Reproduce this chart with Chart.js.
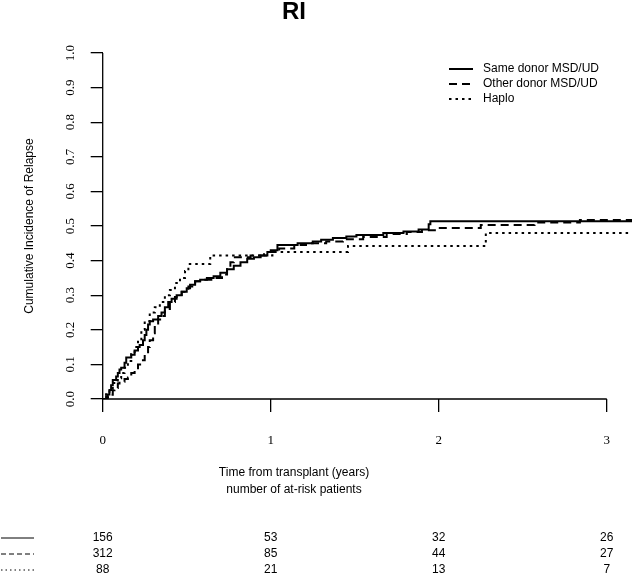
<!DOCTYPE html>
<html>
<head>
<meta charset="utf-8">
<script src="https://cdn.jsdelivr.net/npm/chart.js@4.4.1/dist/chart.umd.min.js"></script>
<style>
  html, body { margin: 0; padding: 0; background: #fff; }
</style>
</head>
<body>
<canvas id="myChart" width="633" height="578"></canvas>
<script>
// Cumulative incidence of relapse (time in years)
var seriesNames = ["Same donor MSD/UD", "Other donor MSD/UD", "Haplo"];

var sameTimes = [0, 0.02, 0.03, 0.04, 0.05, 0.06, 0.08, 0.09, 0.10, 0.11, 0.13, 0.14, 0.17, 0.19, 0.21, 0.22,
  0.24, 0.25, 0.26, 0.27, 0.28, 0.30, 0.33, 0.35, 0.37, 0.39, 0.41, 0.44, 0.47, 0.50, 0.52, 0.55, 0.58,
  0.62, 0.66, 0.70, 0.74, 0.78, 0.82, 0.86, 0.90, 0.94, 0.98, 1.00, 1.04, 1.16, 1.25, 1.30, 1.37, 1.45,
  1.51, 1.67, 1.79, 1.88, 1.94, 1.95, 3.15];
var sameCum = [0, 0.007, 0.013, 0.026, 0.04, 0.055, 0.065, 0.075, 0.085, 0.09, 0.105, 0.12, 0.128, 0.14, 0.15, 0.156,
  0.17, 0.185, 0.2, 0.215, 0.225, 0.23, 0.24, 0.25, 0.265, 0.28, 0.29, 0.30, 0.31, 0.32, 0.33, 0.34, 0.345,
  0.35, 0.355, 0.365, 0.375, 0.385, 0.395, 0.405, 0.41, 0.415, 0.425, 0.43, 0.445, 0.45, 0.455, 0.46, 0.465, 0.47,
  0.474, 0.48, 0.484, 0.49, 0.505, 0.514, 0.514];

var otherTimes = [0, 0.03, 0.04, 0.06, 0.07, 0.09, 0.10, 0.13, 0.15, 0.17, 0.19, 0.21, 0.23, 0.25, 0.27, 0.28,
  0.30, 0.31, 0.33, 0.35, 0.37, 0.40, 0.43, 0.47, 0.51, 0.55, 0.60, 0.66, 0.71, 0.74, 0.76, 0.78, 0.88,
  0.96, 1.05, 1.14, 1.21, 1.33, 1.43, 1.55, 1.69, 1.81, 1.90, 1.99, 2.25, 2.57, 2.84, 3.15];
var otherCum = [0, 0.005, 0.012, 0.025, 0.032, 0.045, 0.05, 0.058, 0.062, 0.075, 0.085, 0.1, 0.112, 0.13, 0.15, 0.17,
  0.19, 0.215, 0.23, 0.24, 0.26, 0.28, 0.295, 0.31, 0.325, 0.34, 0.345, 0.35, 0.36, 0.38, 0.395, 0.41, 0.415,
  0.425, 0.435, 0.445, 0.45, 0.455, 0.462, 0.468, 0.477, 0.483, 0.488, 0.494, 0.503, 0.51, 0.517, 0.517];

var haploTimes = [0, 0.02, 0.04, 0.06, 0.09, 0.11, 0.13, 0.15, 0.17, 0.19, 0.21, 0.23, 0.25, 0.28, 0.31, 0.34,
  0.37, 0.40, 0.43, 0.46, 0.49, 0.51, 0.64, 1.01, 1.46, 2.28, 3.15];
var haploCum = [0, 0.017, 0.03, 0.046, 0.06, 0.075, 0.09, 0.11, 0.13, 0.15, 0.17, 0.2, 0.225, 0.25, 0.265, 0.28,
  0.3, 0.315, 0.335, 0.35, 0.37, 0.39, 0.415, 0.425, 0.442, 0.48, 0.48];

var xTicks = [0, 1, 2, 3];
var yTicks = [0, 0.1, 0.2, 0.3, 0.4, 0.5, 0.6, 0.7, 0.8, 0.9, 1.0];

// number of patients at risk at each x tick
var atRiskSame = [156, 53, 32, 26];
var atRiskOther = [312, 85, 44, 27];
var atRiskHaplo = [88, 21, 13, 7];

function toPoints(times, values) {
  return times.map(function (t, i) {
    return { x: t, y: values[i] };
  });
}

var sansFont = "'Liberation Sans', Arial, sans-serif";
var serifFont = "'Liberation Serif', 'Times New Roman', serif";

// titles, legend and at-risk table
var extras = {
  id: "extras",
  afterDraw: function (chart) {
    var ctx = chart.ctx;
    var xs = chart.scales.x;
    var ys = chart.scales.y;
    ctx.save();
    ctx.strokeStyle = "#000";
    ctx.fillStyle = "#000";

    // axis lines only from first to last tick
    ctx.lineWidth = 1.3;
    ctx.setLineDash([]);
    ctx.beginPath();
    var yBase = ys.getPixelForValue(0);
    ctx.moveTo(xs.getPixelForValue(xTicks[0]), yBase);
    ctx.lineTo(xs.getPixelForValue(xTicks[xTicks.length - 1]), yBase);
    var xBase = xs.getPixelForValue(0);
    ctx.moveTo(xBase, ys.getPixelForValue(yTicks[0]));
    ctx.lineTo(xBase, ys.getPixelForValue(yTicks[yTicks.length - 1]));
    ctx.stroke();

    // main title
    ctx.textAlign = "center";
    ctx.textBaseline = "middle";
    ctx.font = "bold 24px " + sansFont;
    ctx.fillText("RI", 294, 12);

    // y axis title
    ctx.font = "12px " + sansFont;
    ctx.save();
    ctx.translate(30, (ys.top + ys.bottom) / 2);
    ctx.rotate(-Math.PI / 2);
    ctx.fillText("Cumulative Incidence of Relapse", 0, 0);
    ctx.restore();

    // x axis title
    ctx.fillText("Time from transplant (years)", 294, 473);
    ctx.fillText("number of at-risk patients", 294, 490);

    // legend
    var legendY = [69, 84, 99];
    chart.data.datasets.forEach(function (ds, i) {
      ctx.lineWidth = ds.borderWidth;
      ctx.setLineDash(ds.borderDash || []);
      ctx.beginPath();
      ctx.moveTo(449, legendY[i]);
      ctx.lineTo(473, legendY[i]);
      ctx.stroke();
      ctx.setLineDash([]);
      ctx.textAlign = "left";
      ctx.fillText(ds.label, 483, legendY[i]);
    });

    // at-risk table
    var rows = [atRiskSame, atRiskOther, atRiskHaplo];
    var rowY = [538, 554, 570];
    var rowDash = [[], [5, 3], [1.5, 3]];
    rows.forEach(function (row, r) {
      ctx.lineWidth = 1;
      ctx.setLineDash(rowDash[r]);
      ctx.beginPath();
      ctx.moveTo(1, rowY[r]);
      ctx.lineTo(34, rowY[r]);
      ctx.stroke();
      ctx.setLineDash([]);
      ctx.textAlign = "center";
      row.forEach(function (n, j) {
        ctx.fillText(String(n), xs.getPixelForValue(xTicks[j]), rowY[r]);
      });
    });
    ctx.restore();
  },
};

var ctx = document.getElementById("myChart").getContext("2d");

var myChart = new Chart(ctx, {
  type: "line",
  data: {
    datasets: [
      {
        label: seriesNames[0],
        data: toPoints(sameTimes, sameCum),
        borderColor: "#000",
        borderWidth: 2,
        borderDash: [],
        stepped: "before",
        pointRadius: 0,
        fill: false,
      },
      {
        label: seriesNames[1],
        data: toPoints(otherTimes, otherCum),
        borderColor: "#000",
        borderWidth: 2,
        borderDash: [8, 5],
        stepped: "before",
        pointRadius: 0,
        fill: false,
      },
      {
        label: seriesNames[2],
        data: toPoints(haploTimes, haploCum),
        borderColor: "#000",
        borderWidth: 2,
        borderDash: [2.5, 4],
        stepped: "before",
        pointRadius: 0,
        fill: false,
      },
    ],
  },
  options: {
    responsive: false,
    animation: false,
    layout: { padding: { top: 53, right: 1, bottom: 0, left: 0 } },
    plugins: {
      legend: { display: false },
      title: { display: false },
      tooltip: { enabled: false },
    },
    scales: {
      x: {
        type: "linear",
        min: 0,
        max: 3.15,
        afterBuildTicks: function (scale) {
          scale.ticks = xTicks.map(function (v) { return { value: v }; });
        },
        afterFit: function (scale) {
          scale.height = 179;
        },
        grid: { drawOnChartArea: false, drawTicks: true, tickLength: 13, color: "#000", lineWidth: 1.3 },
        border: { display: false },
        ticks: {
          color: "#000",
          padding: 21,
          maxRotation: 0,
          font: { family: serifFont, size: 13 },
          callback: function (v) { return String(v); },
        },
      },
      y: {
        type: "linear",
        min: 0,
        max: 1,
        afterBuildTicks: function (scale) {
          scale.ticks = yTicks.map(function (v) { return { value: v }; });
        },
        afterFit: function (scale) {
          scale.width = 102.7;
        },
        grid: { drawOnChartArea: false, drawTicks: true, tickLength: 12, color: "#000", lineWidth: 1.3 },
        border: { display: false },
        ticks: {
          color: "#000",
          padding: 11.6,
          minRotation: 90,
          maxRotation: 90,
          crossAlign: "center",
          font: { family: serifFont, size: 13 },
          callback: function (v) { return v.toFixed(1); },
        },
      },
    },
  },
  plugins: [extras],
});
</script>
</body>
</html>
